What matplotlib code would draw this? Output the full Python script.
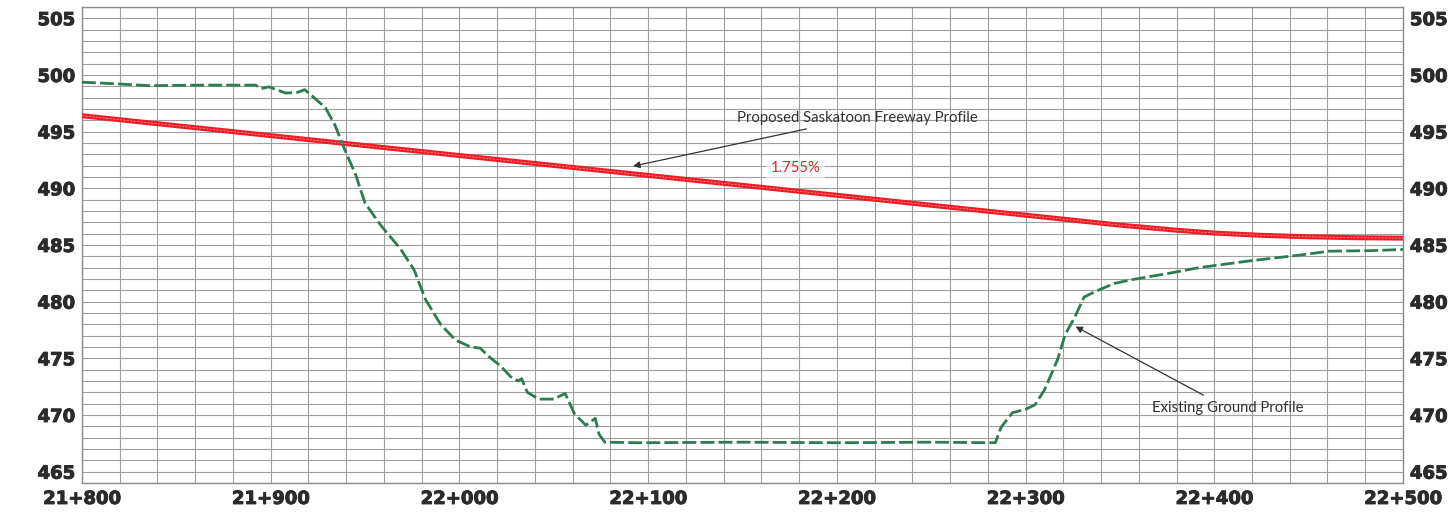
import matplotlib
matplotlib.use("Agg")
import matplotlib.pyplot as plt
import matplotlib.patheffects as pe
from matplotlib.ticker import MultipleLocator, FuncFormatter

# Proposed freeway profile (chainage m, elevation m)
proposed_sta = [21800, 22350, 22380, 22400, 22425, 22450, 22475, 22500]
proposed_elev = [496.4, 486.75, 486.3, 486.05, 485.85, 485.72, 485.64, 485.6]

# Existing ground profile
ground_sta = [21800, 21820, 21836, 21862, 21892, 21895, 21899, 21908, 21914, 21918,
              21923, 21929, 21934, 21939, 21945, 21950, 21958, 21969, 21976, 21982,
              21990, 21998, 22006, 22011, 22016, 22022, 22027, 22031, 22033, 22036,
              22042, 22050, 22056, 22061, 22067, 22072, 22074, 22077, 22096, 22150,
              22200, 22250, 22284, 22287, 22293, 22300, 22305, 22310, 22317, 22321,
              22326, 22331, 22337, 22347, 22355, 22376, 22392, 22419, 22445, 22461,
              22483, 22500]
ground_elev = [499.36, 499.2, 499.05, 499.1, 499.1, 498.8, 498.95, 498.4, 498.45, 498.7,
               498.0, 497.1, 495.6, 493.5, 491.2, 488.7, 486.8, 484.6, 482.8, 480.2,
               478.0, 476.6, 476.0, 475.9, 475.1, 474.3, 473.4, 473.0, 473.2, 472.0,
               471.4, 471.4, 471.9, 470.1, 469.1, 469.7, 468.3, 467.6, 467.55, 467.6,
               467.55, 467.6, 467.55, 468.9, 470.2, 470.5, 470.9, 472.2, 474.9, 477.1,
               478.6, 480.4, 480.9, 481.6, 481.9, 482.5, 483.0, 483.6, 484.1, 484.45,
               484.5, 484.6]

grade_label = "1.755%"
x_ticks = [21800, 21900, 22000, 22100, 22200, 22300, 22400, 22500]


def chainage(v, pos=None):
    v = int(round(v))
    return f"{v // 1000}+{v % 1000:03d}"


fig = plt.figure(figsize=(14.51, 5.13), dpi=100)
ax = fig.add_axes([0.0565, 0.0585, 0.9104, 0.928])

# grid: 20 m x 1 m
ax.xaxis.set_major_locator(MultipleLocator(100))
ax.xaxis.set_minor_locator(MultipleLocator(20))
ax.yaxis.set_major_locator(MultipleLocator(5))
ax.yaxis.set_minor_locator(MultipleLocator(1))
ax.grid(True, which="both", color="#a0a0a0", linewidth=0.8)
ax.set_axisbelow(True)

ax.set_xlim(21800, 22500)
ax.set_ylim(464.0, 506.0)
ax.set_xticks(x_ticks)
ax.xaxis.set_major_formatter(FuncFormatter(chainage))

for s in ax.spines.values():
    s.set_color("#8c8c8c")
    s.set_linewidth(1.0)

heavy = [pe.withStroke(linewidth=0.7, foreground="#2b2b2b")]
ax.tick_params(which="both", length=0)
ax.tick_params(axis="x", pad=5)
ax.tick_params(axis="y", pad=5, labelright=True)
for t in ax.yaxis.get_major_ticks():
    for lab in (t.label1, t.label2):
        lab.set_fontsize(13)
        lab.set_fontweight("bold")
        lab.set_color("#2b2b2b")
        lab.set_path_effects(heavy)
for t in ax.xaxis.get_major_ticks():
    t.label1.set_fontsize(13)
    t.label1.set_fontweight("bold")
    t.label1.set_color("#2b2b2b")
    t.label1.set_path_effects(heavy)

# profiles
ax.plot(proposed_sta, proposed_elev, color="#ee1c25", linewidth=3.6, solid_capstyle="butt", zorder=3)
ax.plot(proposed_sta, proposed_elev, color="white", linewidth=0.5, alpha=0.6,
        linestyle=(0, (3, 2)), zorder=4)
ax.plot(ground_sta, ground_elev, color="#2e7b4f", linewidth=2.0,
        linestyle=(0, (5, 1.5)), zorder=3)

# annotations
ax.annotate("Proposed Saskatoon Freeway Profile", xy=(22092, 491.95), xytext=(22147, 496.2),
            fontsize=10.7, color="#333333", family="Lato", va="center", ha="left",
            arrowprops=dict(arrowstyle="-|>", color="#333333", lw=0.9,
                            shrinkA=4, shrinkB=0, mutation_scale=10))
ax.annotate("Existing Ground Profile", xy=(22326.5, 477.8), xytext=(22367, 470.6),
            fontsize=10.7, color="#333333", family="Lato", va="center", ha="left",
            arrowprops=dict(arrowstyle="-|>", color="#333333", lw=0.9,
                            shrinkA=5, shrinkB=0, mutation_scale=10))
ax.text(22165, 491.8, grade_label, fontsize=10.7, color="#e8202a", family="Lato",
        va="center", ha="left",
        bbox=dict(boxstyle="square,pad=0.3", facecolor="white", edgecolor="none", alpha=0.6))

plt.savefig("out.png", dpi=100)
